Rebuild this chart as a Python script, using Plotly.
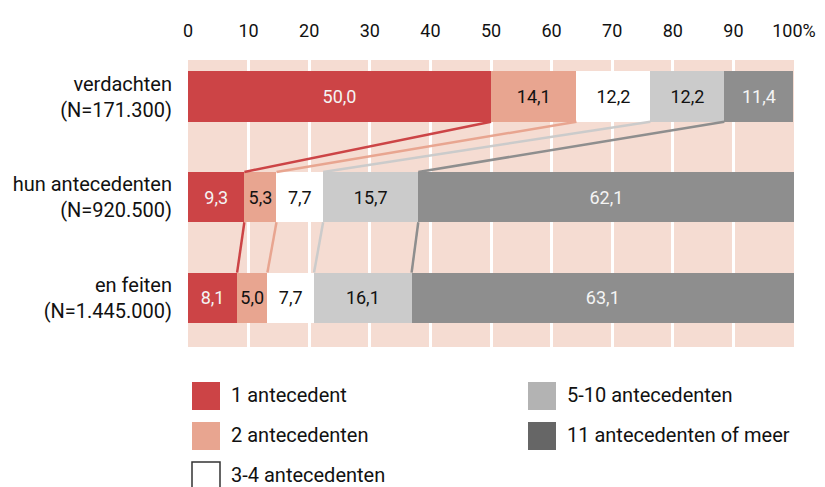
import plotly.graph_objects as go

# data
categories = ["verdachten<br>(N=171.300)", "hun antecedenten<br>(N=920.500)", "en feiten<br>(N=1.445.000)"]
groups = ["1 antecedent", "2 antecedenten", "3-4 antecedenten", "5-10 antecedenten", "11 antecedenten of meer"]
values = {
    "1 antecedent": [50.0, 9.3, 8.1],
    "2 antecedenten": [14.1, 5.3, 5.0],
    "3-4 antecedenten": [12.2, 7.7, 7.7],
    "5-10 antecedenten": [12.2, 15.7, 16.1],
    "11 antecedenten of meer": [11.4, 62.1, 63.1],
}
tick_vals = [0, 10, 20, 30, 40, 50, 60, 70, 80, 90, 100]
tick_text = ["0", "10", "20", "30", "40", "50", "60", "70", "80", "90", "100%"]

bar_colors = ["#cc4446", "#e8a590", "#ffffff", "#cbcbcb", "#8e8e8e"]
text_colors = ["#f4f4f4", "#111111", "#111111", "#111111", "#f4f4f4"]
link_colors = ["#cc4446", "#e8a590", "#cbcbcb", "#8e8e8e"]
legend_colors = ["#cc4446", "#e8a590", "#ffffff", "#b3b3b3", "#666666"]

FONT = "Roboto, Arial, sans-serif"
W, H = 825, 487
OFF = 8  # page body margin shifts the figure by this much
ML, MR, MT, MB = 188 - OFF, 31 + OFF, 60 - OFF, 140 + OFF
BAR_W = 0.5

ypos = list(range(len(categories)))

fig = go.Figure()
for g, col, tc in zip(groups, bar_colors, text_colors):
    vals = values[g]
    fig.add_trace(go.Bar(
        y=ypos, x=vals, orientation="h", name=g,
        marker=dict(color=col, line=dict(width=0)),
        width=BAR_W,
        text=[f"{v:.1f}".replace(".", ",") for v in vals],
        textposition="inside", insidetextanchor="middle",
        textfont=dict(color=tc, size=18, family=FONT),
        constraintext="none",
        showlegend=False, hoverinfo="skip",
    ))

# connecting lines between cumulative boundaries of consecutive bars
cums = []
for i in range(len(categories)):
    s, row = 0, []
    for g in groups[:-1]:
        s += values[g][i]
        row.append(s)
    cums.append(row)

for i in range(len(categories) - 1):
    for k, col in enumerate(link_colors):
        fig.add_trace(go.Scatter(
            x=[cums[i][k], cums[i + 1][k]],
            y=[ypos[i] + BAR_W / 2, ypos[i + 1] - BAR_W / 2],
            mode="lines", line=dict(color=col, width=2.5),
            showlegend=False, hoverinfo="skip",
        ))

fig.update_layout(
    width=W, height=H,
    margin=dict(l=ML, r=MR, t=MT, b=MB, autoexpand=False),
    barmode="stack",
    paper_bgcolor="white",
    plot_bgcolor="#f5dcd2",
    font=dict(family=FONT, size=18, color="#111111"),
    xaxis=dict(
        side="top", range=[0, 100], tickvals=tick_vals, ticktext=tick_text,
        showgrid=True, gridcolor="white", gridwidth=2.5,
        zeroline=False, showline=False, ticks="", ticklabelstandoff=18,
        tickfont=dict(size=18), automargin=False,
    ),
    yaxis=dict(
        tickvals=ypos, ticktext=categories, range=[2.49, -0.363],
        showgrid=False, zeroline=False, ticks="", ticklabelstandoff=15,
        tickfont=dict(size=20), automargin=False,
    ),
)

# legend drawn in paper coords: two columns
plot_h = H - MT - MB
plot_w = W - ML - MR


def px_x(x):
    return (x - OFF - ML) / plot_w


def px_y(y):
    return (H - MB - (y - OFF)) / plot_h


legend_slots = [(192, 382), (192, 422), (192, 462), (528, 382), (528, 422)]
for g, col, (x0, y0) in zip(groups, legend_colors, legend_slots):
    fig.add_shape(
        type="rect", xref="paper", yref="paper",
        x0=px_x(x0), x1=px_x(x0 + 28), y0=px_y(y0), y1=px_y(y0 + 28),
        fillcolor=col,
        line=dict(color="#333333" if col == "#ffffff" else col, width=1.5 if col == "#ffffff" else 0),
    )
    fig.add_annotation(
        xref="paper", yref="paper", x=px_x(x0 + 37), y=px_y(y0 + 13),
        text=g, showarrow=False, xanchor="left", yanchor="middle",
        font=dict(size=20, family=FONT, color="#111111"),
    )

fig.write_html("out.html")
